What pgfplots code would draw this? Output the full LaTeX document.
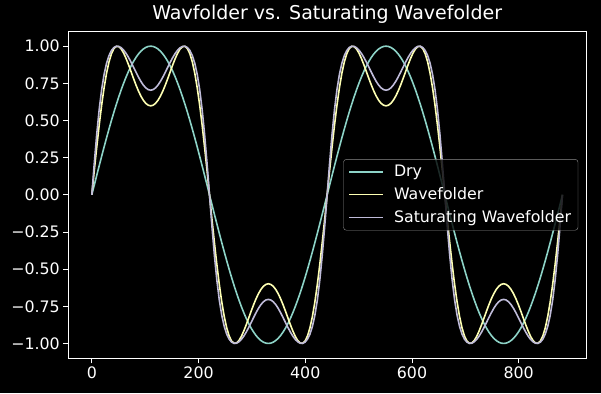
\documentclass[border=0pt]{standalone}
\usepackage{fontspec}
\setmainfont{DejaVu Sans}
\usepackage{pgfplots}
\usepackage{pgfplotstable}
\pgfplotsset{compat=1.18}
\definecolor{cdry}{HTML}{8DD3C7}
\definecolor{cwet}{HTML}{FEFFB3}
\definecolor{csat}{HTML}{BFBBD9}
\pgfplotstableread{
x d w s
0 0 0 0
4.59 0.0654 0.1628 0.2119
9.19 0.1305 0.3206 0.4071
13.78 0.1951 0.4686 0.5739
18.38 0.2588 0.6028 0.7078
22.97 0.3214 0.7199 0.8099
27.56 0.3827 0.8173 0.8845
32.16 0.4423 0.8938 0.9365
36.75 0.5 0.9490 0.9708
41.34 0.5556 0.9835 0.9908
45.94 0.6088 0.9988 0.9993
50.53 0.6593 0.9970 0.9983
55.13 0.7071 0.9807 0.9892
59.72 0.7518 0.9527 0.9730
64.31 0.7934 0.9161 0.9507
68.91 0.8315 0.8738 0.9234
73.5 0.8660 0.8286 0.8925
78.09 0.8969 0.7830 0.8593
82.69 0.9239 0.7392 0.8255
87.28 0.9469 0.6992 0.7929
91.88 0.9659 0.6645 0.7633
96.47 0.9808 0.6363 0.7384
101.06 0.9914 0.6155 0.7195
105.66 0.9979 0.6028 0.7077
110.25 1 0.5985 0.7037
114.84 0.9979 0.6028 0.7077
119.44 0.9914 0.6155 0.7195
124.03 0.9808 0.6363 0.7384
128.63 0.9659 0.6645 0.7633
133.22 0.9469 0.6992 0.7929
137.81 0.9239 0.7392 0.8255
142.41 0.8969 0.7830 0.8593
147 0.8660 0.8286 0.8925
151.59 0.8315 0.8738 0.9234
156.19 0.7934 0.9161 0.9507
160.78 0.7518 0.9527 0.9730
165.38 0.7071 0.9807 0.9892
169.97 0.6593 0.9970 0.9983
174.56 0.6088 0.9988 0.9993
179.16 0.5556 0.9835 0.9908
183.75 0.5 0.9490 0.9708
188.34 0.4423 0.8938 0.9365
192.94 0.3827 0.8173 0.8845
197.53 0.3214 0.7199 0.8099
202.13 0.2588 0.6028 0.7078
206.72 0.1951 0.4686 0.5739
211.31 0.1305 0.3206 0.4071
215.91 0.0654 0.1628 0.2119
220.5 0 0 0
225.09 -0.0654 -0.1628 -0.2119
229.69 -0.1305 -0.3206 -0.4071
234.28 -0.1951 -0.4686 -0.5739
238.88 -0.2588 -0.6028 -0.7078
243.47 -0.3214 -0.7199 -0.8099
248.06 -0.3827 -0.8173 -0.8845
252.66 -0.4423 -0.8938 -0.9365
257.25 -0.5 -0.9490 -0.9708
261.84 -0.5556 -0.9835 -0.9908
266.44 -0.6088 -0.9988 -0.9993
271.03 -0.6593 -0.9970 -0.9983
275.63 -0.7071 -0.9807 -0.9892
280.22 -0.7518 -0.9527 -0.9730
284.81 -0.7934 -0.9161 -0.9507
289.41 -0.8315 -0.8738 -0.9234
294 -0.8660 -0.8286 -0.8925
298.59 -0.8969 -0.7830 -0.8593
303.19 -0.9239 -0.7392 -0.8255
307.78 -0.9469 -0.6992 -0.7929
312.38 -0.9659 -0.6645 -0.7633
316.97 -0.9808 -0.6363 -0.7384
321.56 -0.9914 -0.6155 -0.7195
326.16 -0.9979 -0.6028 -0.7077
330.75 -1 -0.5985 -0.7037
335.34 -0.9979 -0.6028 -0.7077
339.94 -0.9914 -0.6155 -0.7195
344.53 -0.9808 -0.6363 -0.7384
349.13 -0.9659 -0.6645 -0.7633
353.72 -0.9469 -0.6992 -0.7929
358.31 -0.9239 -0.7392 -0.8255
362.91 -0.8969 -0.7830 -0.8593
367.5 -0.8660 -0.8286 -0.8925
372.09 -0.8315 -0.8738 -0.9234
376.69 -0.7934 -0.9161 -0.9507
381.28 -0.7518 -0.9527 -0.9730
385.88 -0.7071 -0.9807 -0.9892
390.47 -0.6593 -0.9970 -0.9983
395.06 -0.6088 -0.9988 -0.9993
399.66 -0.5556 -0.9835 -0.9908
404.25 -0.5 -0.9490 -0.9708
408.84 -0.4423 -0.8938 -0.9365
413.44 -0.3827 -0.8173 -0.8845
418.03 -0.3214 -0.7199 -0.8099
422.63 -0.2588 -0.6028 -0.7078
427.22 -0.1951 -0.4686 -0.5739
431.81 -0.1305 -0.3206 -0.4071
436.41 -0.0654 -0.1628 -0.2119
441 0 0 0
445.59 0.0654 0.1628 0.2119
450.19 0.1305 0.3206 0.4071
454.78 0.1951 0.4686 0.5739
459.38 0.2588 0.6028 0.7078
463.97 0.3214 0.7199 0.8099
468.56 0.3827 0.8173 0.8845
473.16 0.4423 0.8938 0.9365
477.75 0.5 0.9490 0.9708
482.34 0.5556 0.9835 0.9908
486.94 0.6088 0.9988 0.9993
491.53 0.6593 0.9970 0.9983
496.13 0.7071 0.9807 0.9892
500.72 0.7518 0.9527 0.9730
505.31 0.7934 0.9161 0.9507
509.91 0.8315 0.8738 0.9234
514.5 0.8660 0.8286 0.8925
519.09 0.8969 0.7830 0.8593
523.69 0.9239 0.7392 0.8255
528.28 0.9469 0.6992 0.7929
532.88 0.9659 0.6645 0.7633
537.47 0.9808 0.6363 0.7384
542.06 0.9914 0.6155 0.7195
546.66 0.9979 0.6028 0.7077
551.25 1 0.5985 0.7037
555.84 0.9979 0.6028 0.7077
560.44 0.9914 0.6155 0.7195
565.03 0.9808 0.6363 0.7384
569.63 0.9659 0.6645 0.7633
574.22 0.9469 0.6992 0.7929
578.81 0.9239 0.7392 0.8255
583.41 0.8969 0.7830 0.8593
588 0.8660 0.8286 0.8925
592.59 0.8315 0.8738 0.9234
597.19 0.7934 0.9161 0.9507
601.78 0.7518 0.9527 0.9730
606.38 0.7071 0.9807 0.9892
610.97 0.6593 0.9970 0.9983
615.56 0.6088 0.9988 0.9993
620.16 0.5556 0.9835 0.9908
624.75 0.5 0.9490 0.9708
629.34 0.4423 0.8938 0.9365
633.94 0.3827 0.8173 0.8845
638.53 0.3214 0.7199 0.8099
643.13 0.2588 0.6028 0.7078
647.72 0.1951 0.4686 0.5739
652.31 0.1305 0.3206 0.4071
656.91 0.0654 0.1628 0.2119
661.5 0 0 0
666.09 -0.0654 -0.1628 -0.2119
670.69 -0.1305 -0.3206 -0.4071
675.28 -0.1951 -0.4686 -0.5739
679.88 -0.2588 -0.6028 -0.7078
684.47 -0.3214 -0.7199 -0.8099
689.06 -0.3827 -0.8173 -0.8845
693.66 -0.4423 -0.8938 -0.9365
698.25 -0.5 -0.9490 -0.9708
702.84 -0.5556 -0.9835 -0.9908
707.44 -0.6088 -0.9988 -0.9993
712.03 -0.6593 -0.9970 -0.9983
716.63 -0.7071 -0.9807 -0.9892
721.22 -0.7518 -0.9527 -0.9730
725.81 -0.7934 -0.9161 -0.9507
730.41 -0.8315 -0.8738 -0.9234
735 -0.8660 -0.8286 -0.8925
739.59 -0.8969 -0.7830 -0.8593
744.19 -0.9239 -0.7392 -0.8255
748.78 -0.9469 -0.6992 -0.7929
753.38 -0.9659 -0.6645 -0.7633
757.97 -0.9808 -0.6363 -0.7384
762.56 -0.9914 -0.6155 -0.7195
767.16 -0.9979 -0.6028 -0.7077
771.75 -1 -0.5985 -0.7037
776.34 -0.9979 -0.6028 -0.7077
780.94 -0.9914 -0.6155 -0.7195
785.53 -0.9808 -0.6363 -0.7384
790.13 -0.9659 -0.6645 -0.7633
794.72 -0.9469 -0.6992 -0.7929
799.31 -0.9239 -0.7392 -0.8255
803.91 -0.8969 -0.7830 -0.8593
808.5 -0.8660 -0.8286 -0.8925
813.09 -0.8315 -0.8738 -0.9234
817.69 -0.7934 -0.9161 -0.9507
822.28 -0.7518 -0.9527 -0.9730
826.88 -0.7071 -0.9807 -0.9892
831.47 -0.6593 -0.9970 -0.9983
836.06 -0.6088 -0.9988 -0.9993
840.66 -0.5556 -0.9835 -0.9908
845.25 -0.5 -0.9490 -0.9708
849.84 -0.4423 -0.8938 -0.9365
854.44 -0.3827 -0.8173 -0.8845
859.03 -0.3214 -0.7199 -0.8099
863.63 -0.2588 -0.6028 -0.7078
868.22 -0.1951 -0.4686 -0.5739
872.81 -0.1305 -0.3206 -0.4071
877.41 -0.0654 -0.1628 -0.2119
882 0 0 0
}\wavedata
\begin{document}
\begin{tikzpicture}[x=1bp,y=1bp]
\useasboundingbox (-68.3,-34.7) rectangle (532.7,358.3);
\fill[black] (-68.3,-34.7) rectangle (532.7,358.3);
\begin{axis}[
  at={(0,0)}, anchor=south west,
  scale only axis, width=517.7bp, height=327bp,
  xmin=-44.1, xmax=926.1, ymin=-1.1, ymax=1.1,
  axis line style={white, line width=0.9bp},
  tick style={white, line width=0.9bp},
  major tick length=5bp, tick align=outside, tick pos=left,
  xtick={0,200,400,600,800}, xticklabels={0,200,400,600,800},
  ytick={-1,-0.75,-0.5,-0.25,0,0.25,0.5,0.75,1},
  yticklabels={−1.00,−0.75,−0.50,−0.25,0.00,0.25,0.50,0.75,1.00},
  tick label style={font=\fontsize{15.8bp}{19bp}\selectfont, text=white},
  title={Wavfolder vs. Saturating Wavefolder},
  title style={at={(0.5,1)}, anchor=base, yshift=6.3bp, font=\fontsize{19bp}{23bp}\selectfont, text=white},
  legend cell align=left,
  legend image code/.code={\draw[#1] (0bp,0bp) -- (34bp,0bp);},
  legend style={at={(0.985,0.5)}, anchor=east, draw=white!55!black, fill=black, fill opacity=0.8, text opacity=1,
    rounded corners=3bp, text=white, font=\fontsize{15.8bp}{19bp}\selectfont, inner xsep=5bp, inner ysep=4bp,
    row sep=5.5bp, /tikz/every odd column/.append style={column sep=8bp}},
]
\addplot[cdry, line width=1.6bp] table[x=x,y=d]{\wavedata};
\addlegendentry{Dry}
\addplot[cwet, line width=1.6bp] table[x=x,y=w]{\wavedata};
\addlegendentry{Wavefolder}
\addplot[csat, line width=1.6bp] table[x=x,y=s]{\wavedata};
\addlegendentry{Saturating Wavefolder}
\end{axis}
\end{tikzpicture}
\end{document}
